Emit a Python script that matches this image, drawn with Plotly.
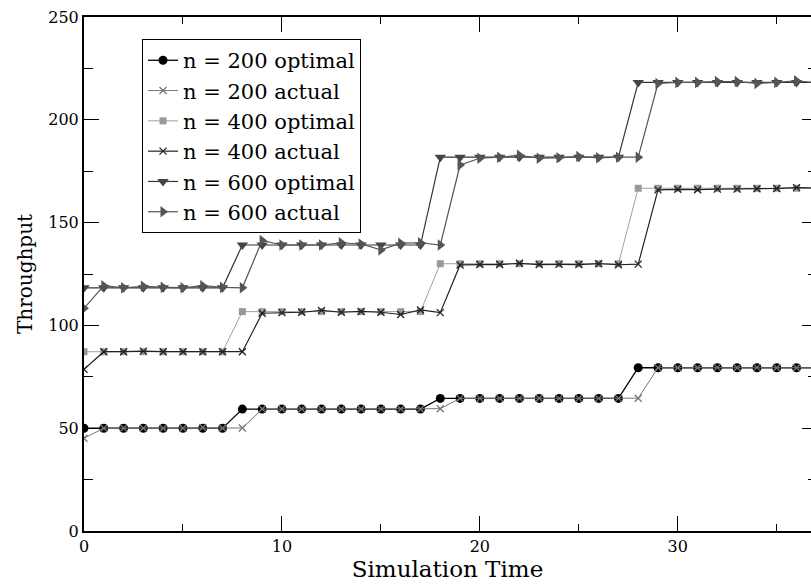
import plotly.graph_objects as go

# Simulation time steps
sim_time = [0, 1, 2, 3, 4, 5, 6, 7, 8, 9, 10, 11, 12, 13, 14, 15, 16, 17, 18, 19,
            20, 21, 22, 23, 24, 25, 26, 27, 28, 29, 30, 31, 32, 33, 34, 35, 36, 37]

n200_optimal = [50, 50, 50, 50, 50, 50, 50, 50,
                59.3, 59.3, 59.3, 59.3, 59.3, 59.3, 59.3, 59.3, 59.3, 59.3,
                64.5, 64.5, 64.5, 64.5, 64.5, 64.5, 64.5, 64.5, 64.5, 64.5,
                79.4, 79.4, 79.4, 79.4, 79.4, 79.4, 79.4, 79.4, 79.4, 79.4]
n200_actual = [45.1, 50, 50, 50, 50, 50, 50.3, 50,
               50.1, 59.3, 59.3, 59.3, 59.3, 59.3, 59.3, 59.4, 59.3, 59.3,
               59.5, 64.5, 64.5, 64.5, 64.5, 64.6, 64.5, 64.5, 64.5, 64.5,
               64.6, 79.4, 79.4, 79.4, 79.6, 79.4, 79.6, 79.4, 79.4, 79.4]
n400_optimal = [87.2, 87.2, 87.2, 87.2, 87.2, 87.2, 87.2, 87.2,
                106.7, 106.7, 106.7, 106.7, 106.7, 106.7, 106.7, 106.7, 106.7, 106.7,
                130.0, 130.0, 130.0, 130.0, 130.0, 130.0, 130.0, 130.0, 130.0, 130.0,
                166.7, 166.7, 166.7, 166.7, 166.7, 166.7, 166.7, 166.7, 166.7, 166.7]
n400_actual = [78.6, 87.2, 87.2, 87.5, 87.2, 87.2, 87.2, 87.2,
               87.2, 105.9, 106.2, 106.4, 107.3, 106.4, 106.8, 106.4, 105.3, 107.5,
               106.2, 129.4, 129.6, 129.6, 130.2, 129.6, 129.7, 129.6, 130.0, 129.5,
               129.8, 165.9, 166.2, 166.0, 166.3, 166.3, 166.5, 166.6, 167.0, 166.9]
n600_optimal = [118.3, 118.3, 118.3, 118.3, 118.3, 118.3, 118.3, 118.3,
                139.1, 139.1, 139.1, 139.1, 139.1, 139.1, 139.1, 139.1, 139.1, 139.1,
                181.8, 181.8, 181.8, 181.8, 181.8, 181.8, 181.8, 181.8, 181.8, 181.8,
                218.2, 218.2, 218.2, 218.2, 218.2, 218.2, 218.2, 218.2, 218.2, 218.2]
n600_actual = [108.3, 119.3, 118.3, 119.0, 118.6, 118.3, 119.3, 118.5,
               118.3, 141.3, 139.1, 139.1, 139.1, 140.2, 139.6, 136.7, 140.0, 140.2,
               139.1, 178.0, 181.3, 181.8, 182.7, 181.3, 181.5, 182.1, 181.5, 181.8,
               181.8, 217.7, 218.2, 218.2, 218.6, 218.6, 217.7, 218.2, 219.0, 218.0]

x_ticks = [0, 10, 20, 30]
y_ticks = [0, 50, 100, 150, 200, 250]

series = [
    ("n = 200 optimal", n200_optimal, "#000000", "#000000", "circle", 9, 1.3),
    ("n = 200 actual", n200_actual, "#777777", "#777777", "x-thin", 7, 1.0),
    ("n = 400 optimal", n400_optimal, "#a0a0a0", "#999999", "square", 7, 1.0),
    ("n = 400 actual", n400_actual, "#222222", "#222222", "x-thin", 7, 1.2),
    ("n = 600 optimal", n600_optimal, "#333333", "#444444", "triangle-down", 10, 1.2),
    ("n = 600 actual", n600_actual, "#555555", "#555555", "triangle-right", 10, 1.2),
]

fig = go.Figure()
for name, vals, lcol, mcol, sym, size, lw in series:
    marker = dict(symbol=sym, size=size, color=mcol)
    if sym == "x-thin":
        marker["line"] = dict(color=mcol, width=1.3)
    else:
        marker["line"] = dict(width=0)
    fig.add_trace(go.Scatter(
        x=sim_time, y=vals, name=name, mode="lines+markers",
        line=dict(color=lcol, width=lw), marker=marker,
    ))

# invisible helper trace for the right-side tick axis
fig.add_trace(go.Scatter(x=[0], y=[0], yaxis="y2", mode="markers",
                         marker=dict(opacity=0), showlegend=False, hoverinfo="skip"))

SERIF = "DejaVu Serif"

fig.update_layout(
    template="none",
    width=811, height=586,
    margin=dict(l=84, r=0, t=17, b=55),
    paper_bgcolor="white", plot_bgcolor="white",
    font=dict(family=SERIF, color="black", size=16),
    showlegend=True,
    legend=dict(
        x=0.0798, y=0.957, xanchor="left", yanchor="top",
        bgcolor="white", bordercolor="black", borderwidth=1,
        font=dict(family=SERIF, size=21, color="black"),
        itemwidth=30, tracegroupgap=0,
    ),
    xaxis=dict(
        range=[0, 36.73], tickvals=x_ticks, ticktext=[str(v) for v in x_ticks],
        ticks="inside", ticklen=15, tickwidth=1, tickcolor="black",
        minor=dict(ticks="inside", ticklen=7, dtick=5, tick0=0, tickcolor="black", tickwidth=1),
        showline=True, linecolor="black", linewidth=2, mirror="ticks",
        showgrid=False, zeroline=False,
        title=dict(text="Simulation Time", font=dict(family=SERIF, size=23, color="black"), standoff=0),
        tickfont=dict(family=SERIF, size=16, color="black"),
    ),
    yaxis=dict(
        range=[0, 250], tickvals=y_ticks, ticktext=[str(v) for v in y_ticks],
        ticks="inside", ticklen=15, tickwidth=1, tickcolor="black",
        minor=dict(ticks="inside", ticklen=9, dtick=25, tick0=0, tickcolor="black", tickwidth=1),
        showline=True, linecolor="black", linewidth=2, mirror=False,
        showgrid=False, zeroline=False,
        title=dict(text="Throughput", font=dict(family=SERIF, size=20, color="black"), standoff=10),
        tickfont=dict(family=SERIF, size=16, color="black"),
    ),
    yaxis2=dict(
        range=[0, 250], overlaying="y", side="right", anchor="x",
        tickvals=y_ticks, showticklabels=False,
        ticks="inside", ticklen=9, tickwidth=1, tickcolor="black",
        minor=dict(ticks="inside", ticklen=3, dtick=25, tick0=0, tickcolor="black", tickwidth=1),
        showline=False, showgrid=False, zeroline=False,
    ),
)

fig.write_html("out.html")
